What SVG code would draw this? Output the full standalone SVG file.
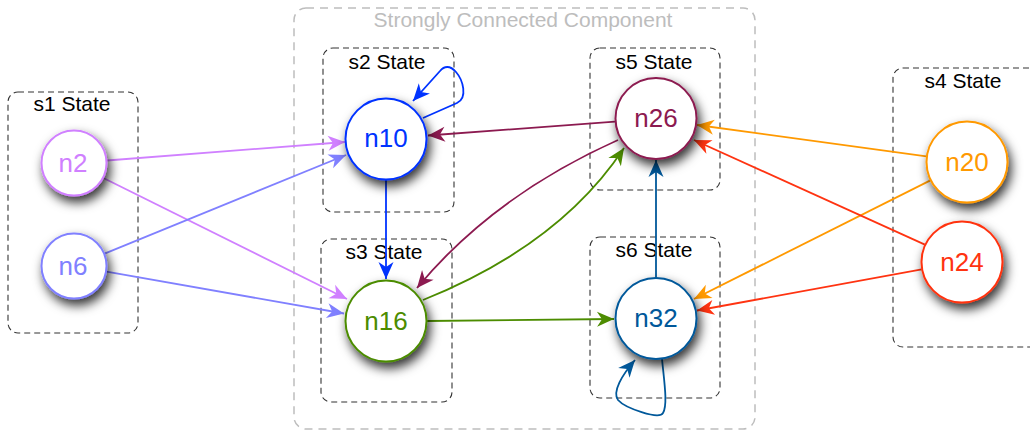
<svg xmlns="http://www.w3.org/2000/svg" width="1030" height="431" viewBox="0 0 1030 431">
  <style>
    .scc { fill: none; stroke: #bdbdbd; stroke-width: 1.5; stroke-dasharray: 8 6; }
    .scc-label { font-family: "Liberation Sans", Arial, sans-serif; font-size: 21px; fill: #bdbdbd; text-anchor: middle; }
    .state { fill: none; stroke: #333; stroke-width: 1.1; stroke-dasharray: 6 4; }
    .state-label { font-family: "Liberation Sans", Arial, sans-serif; font-size: 21px; fill: #000; text-anchor: middle; }
    .node circle { fill: #fff; stroke-width: 2; filter: url(#shadow); }
    .node text { font-family: "Liberation Sans", Arial, sans-serif; font-size: 26px; text-anchor: middle; dominant-baseline: central; }
    .edge { fill: none; stroke-width: 1.8; }
  </style>
  <defs>
    <filter id="shadow" x="-50%" y="-50%" width="200%" height="200%">
      <feDropShadow dx="3" dy="6" stdDeviation="5.5" flood-color="#000" flood-opacity="0.8"/>
    </filter>
    <marker id="a-purple" markerUnits="userSpaceOnUse" markerWidth="20" markerHeight="20" refX="0" refY="0" viewBox="-18 -9 20 18" orient="auto"><path d="M0,0 L-17,-7.5 L-12,0 L-17,7.5 z" fill="#d080ff"/></marker>
    <marker id="a-violet" markerUnits="userSpaceOnUse" markerWidth="20" markerHeight="20" refX="0" refY="0" viewBox="-18 -9 20 18" orient="auto"><path d="M0,0 L-17,-7.5 L-12,0 L-17,7.5 z" fill="#8080ff"/></marker>
    <marker id="a-blue" markerUnits="userSpaceOnUse" markerWidth="20" markerHeight="20" refX="0" refY="0" viewBox="-18 -9 20 18" orient="auto"><path d="M0,0 L-17,-7.5 L-12,0 L-17,7.5 z" fill="#0033ff"/></marker>
    <marker id="a-maroon" markerUnits="userSpaceOnUse" markerWidth="20" markerHeight="20" refX="0" refY="0" viewBox="-18 -9 20 18" orient="auto"><path d="M0,0 L-17,-7.5 L-12,0 L-17,7.5 z" fill="#8c1a50"/></marker>
    <marker id="a-green" markerUnits="userSpaceOnUse" markerWidth="20" markerHeight="20" refX="0" refY="0" viewBox="-18 -9 20 18" orient="auto"><path d="M0,0 L-17,-7.5 L-12,0 L-17,7.5 z" fill="#4c8c00"/></marker>
    <marker id="a-navy" markerUnits="userSpaceOnUse" markerWidth="20" markerHeight="20" refX="0" refY="0" viewBox="-18 -9 20 18" orient="auto"><path d="M0,0 L-17,-7.5 L-12,0 L-17,7.5 z" fill="#00589a"/></marker>
    <marker id="a-orange" markerUnits="userSpaceOnUse" markerWidth="20" markerHeight="20" refX="0" refY="0" viewBox="-18 -9 20 18" orient="auto"><path d="M0,0 L-17,-7.5 L-12,0 L-17,7.5 z" fill="#ff9900"/></marker>
    <marker id="a-red" markerUnits="userSpaceOnUse" markerWidth="20" markerHeight="20" refX="0" refY="0" viewBox="-18 -9 20 18" orient="auto"><path d="M0,0 L-17,-7.5 L-12,0 L-17,7.5 z" fill="#ff3311"/></marker>
  </defs>

  <!-- strongly connected component frame -->
  <g id="scc">
    <rect class="scc" x="294" y="8" width="461" height="421" rx="12"/>
    <text class="scc-label" x="523" y="27">Strongly Connected Component</text>
  </g>

  <!-- state frames -->
  <g id="s1">
    <rect class="state" x="8" y="92" width="130" height="241" rx="10"/>
    <text class="state-label" x="72" y="111">s1 State</text>
  </g>
  <g id="s2">
    <rect class="state" x="323" y="48" width="131" height="164" rx="10"/>
    <text class="state-label" x="387" y="69">s2 State</text>
  </g>
  <g id="s3">
    <rect class="state" x="321" y="239" width="131" height="163" rx="10"/>
    <text class="state-label" x="384" y="259">s3 State</text>
  </g>
  <g id="s5">
    <rect class="state" x="590" y="48" width="130" height="142" rx="10"/>
    <text class="state-label" x="654" y="69">s5 State</text>
  </g>
  <g id="s6">
    <rect class="state" x="590" y="237" width="130" height="161" rx="10"/>
    <text class="state-label" x="654" y="257">s6 State</text>
  </g>
  <g id="s4">
    <rect class="state" x="893" y="68" width="150" height="279" rx="10"/>
    <text class="state-label" x="963" y="88">s4 State</text>
  </g>

  <!-- connectors -->
  <g id="edges">
    <path class="edge" stroke="#d080ff" marker-end="url(#a-purple)" d="M107,160.5 L345,142"/>
    <path class="edge" stroke="#d080ff" marker-end="url(#a-purple)" d="M103.4,178 L347,299"/>
    <path class="edge" stroke="#8080ff" marker-end="url(#a-violet)" d="M104.6,253.6 L346,155"/>
    <path class="edge" stroke="#8080ff" marker-end="url(#a-violet)" d="M106.5,271.7 L344,313.5"/>
    <path class="edge" stroke="#0033ff" marker-end="url(#a-blue)" d="M423,118 L457,103 C468,98 463,80 456,72 C450,65 444,66 440,71 L413,101"/>
    <path class="edge" stroke="#0033ff" marker-end="url(#a-blue)" d="M386,180 L386,279"/>
    <path class="edge" stroke="#8c1a50" marker-end="url(#a-maroon)" d="M615,121.6 L428,135.5"/>
    <path class="edge" stroke="#8c1a50" marker-end="url(#a-maroon)" d="M618,140 Q493,196 417,288"/>
    <path class="edge" stroke="#4c8c00" marker-end="url(#a-green)" d="M423,300 Q560,245 624,148"/>
    <path class="edge" stroke="#4c8c00" marker-end="url(#a-green)" d="M427,321 L614,319"/>
    <path class="edge" stroke="#00589a" marker-end="url(#a-navy)" d="M656,277.5 L656,160"/>
    <path class="edge" stroke="#00589a" marker-end="url(#a-navy)" d="M662,359 C664,380 668,405 663,413 C659,420 625,408 618,400 C612,392 622,375 635,360"/>
    <path class="edge" stroke="#ff9900" marker-end="url(#a-orange)" d="M926.4,156.3 L697,125"/>
    <path class="edge" stroke="#ff9900" marker-end="url(#a-orange)" d="M930.4,180.4 L694,299"/>
    <path class="edge" stroke="#ff3311" marker-end="url(#a-red)" d="M924.9,244.6 L694,140"/>
    <path class="edge" stroke="#ff3311" marker-end="url(#a-red)" d="M921.7,269.4 L697,310.5"/>
  </g>

  <!-- nodes -->
  <g id="n2" class="node"><circle cx="74" cy="163" r="32.5" stroke="#d080ff"/><text x="73" y="163" fill="#d080ff">n2</text></g>
  <g id="n6" class="node"><circle cx="74" cy="266" r="32.5" stroke="#8080ff"/><text x="73" y="266" fill="#8080ff">n6</text></g>
  <g id="n10" class="node"><circle cx="386" cy="139" r="40.5" stroke="#0033ff"/><text x="386" y="138" fill="#0033ff">n10</text></g>
  <g id="n16" class="node"><circle cx="386" cy="321" r="40.5" stroke="#4c8c00"/><text x="386" y="321" fill="#4c8c00">n16</text></g>
  <g id="n26" class="node"><circle cx="656" cy="118.5" r="40.5" stroke="#8c1a50"/><text x="656" y="118" fill="#8c1a50">n26</text></g>
  <g id="n32" class="node"><circle cx="656" cy="318.5" r="40.5" stroke="#00589a"/><text x="656" y="318" fill="#00589a">n32</text></g>
  <g id="n20" class="node"><circle cx="967" cy="162" r="40.5" stroke="#ff9900"/><text x="967" y="162" fill="#ff9900">n20</text></g>
  <g id="n24" class="node"><circle cx="962" cy="262" r="40.5" stroke="#ff3311"/><text x="962" y="262" fill="#ff3311">n24</text></g>
</svg>
